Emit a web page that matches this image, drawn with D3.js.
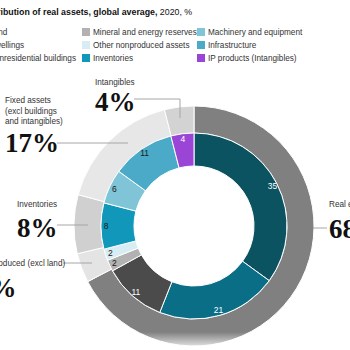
<!DOCTYPE html>
<html>
<head>
<meta charset="utf-8">
<script src="https://cdnjs.cloudflare.com/ajax/libs/d3/7.8.5/d3.min.js"></script>
<style>
    body { margin: 0; background: #fff; }
    svg { display: block; font-family: "Liberation Sans", Arial, sans-serif; }
</style>
</head>
<body>
<div id="chart"></div>
<script>

// outer ring: asset groups
let outerNames = ["Real estate", "Nonproduced (excl land)", "Inventories", "Fixed assets", "Intangibles"];
let outerValues = [68, 4, 8, 17, 4];
let outerColors = ["#808080", "#e4e4e4", "#d0d0d0", "#e7e7e7", "#d3d3d3"];

// inner ring: asset types (same order as legend)
let innerNames = ["Land", "Dwellings", "Nonresidential buildings", "Mineral and energy reserves",
    "Other nonproduced assets", "Inventories", "Machinery and equipment", "Infrastructure", "IP products (Intangibles)"];
let innerValues = [35, 21, 11, 2, 2, 8, 6, 11, 4];
let innerColors = ["#0c5361", "#0a6e87", "#4b4b4b", "#b2b2b2", "#d7ecf3", "#1197b9", "#80c4d8", "#4aaac7", "#9b45d6"];
let innerDarkText = [false, false, false, true, true, true, true, true, false];

// callout text lines for the outer groups
let calloutLines = [["Real estate"], ["Nonproduced (excl land)"], ["Inventories"],
    ["Fixed assets", "(excl buildings", "and intangibles)"], ["Intangibles"]];


class DonutVis {

    constructor(parentElement) {
        this.parentElement = parentElement;
        this.initVis();
    }

    initVis() {
        let vis = this;

        vis.width = 350;
        vis.height = 350;
        vis.cx = 194;
        vis.cy = 226;

        vis.svg = d3.select("#" + vis.parentElement).append("svg")
            .attr("width", vis.width)
            .attr("height", vis.height);

        vis.drawTitle();
        vis.drawLegend();
        vis.drawRings();
        vis.drawCallouts();

        // fade at the bottom edge
        let grad = vis.svg.append("defs").append("linearGradient")
            .attr("id", "fade").attr("x1", 0).attr("y1", 0).attr("x2", 0).attr("y2", 1);
        grad.append("stop").attr("offset", "0%").attr("stop-color", "#fff").attr("stop-opacity", 0);
        grad.append("stop").attr("offset", "100%").attr("stop-color", "#fff").attr("stop-opacity", 0.95);
        vis.svg.append("rect")
            .attr("x", 0).attr("y", 332).attr("width", vis.width).attr("height", 18)
            .attr("fill", "url(#fade)");
    }

    drawTitle() {
        let vis = this;

        // the title starts left of the visible area
        let probe = vis.svg.append("text")
            .attr("font-size", 8.8).attr("font-weight", "bold").text("Distr");
        let shift = probe.node().getComputedTextLength();
        probe.remove();

        let title = vis.svg.append("text")
            .attr("x", -shift + 0.5)
            .attr("y", 15)
            .attr("font-size", 8.8)
            .attr("fill", "#111");
        title.append("tspan").attr("font-weight", "bold").text("Distribution of real assets, global average,");
        title.append("tspan").text(" 2020, %");
    }

    drawLegend() {
        let vis = this;

        let rowY = [32, 45, 58];
        let colText = [null, 93, 208];

        // first column is right-aligned to the second one, so measure its longest item
        let probe = vis.svg.append("text").attr("font-size", 8.2).text(innerNames[2]);
        colText[0] = 76 - probe.node().getComputedTextLength();
        probe.remove();

        innerNames.forEach((name, i) => {
            let col = Math.floor(i / 3);
            let row = i % 3;
            let g = vis.svg.append("g")
                .attr("transform", `translate(${colText[col]}, ${rowY[row]})`);
            g.append("rect")
                .attr("x", -11).attr("y", -4)
                .attr("width", 8).attr("height", 8)
                .attr("fill", innerColors[i]);
            g.append("text")
                .attr("x", 0).attr("y", 3)
                .attr("font-size", 8.2)
                .attr("fill", "#333")
                .text(name);
        });
    }

    drawRings() {
        let vis = this;

        let pie = d3.pie().sort(null).value(d => d);

        let outerArc = d3.arc().innerRadius(93).outerRadius(120);
        let innerArc = d3.arc().innerRadius(60).outerRadius(93);
        let labelArc = d3.arc().innerRadius(88).outerRadius(88);

        let rings = vis.svg.append("g")
            .attr("transform", `translate(${vis.cx}, ${vis.cy})`);

        vis.outerPie = pie(outerValues);

        rings.selectAll(".outer")
            .data(vis.outerPie)
            .enter()
            .append("path")
            .attr("class", "outer")
            .attr("d", outerArc)
            .attr("fill", (d, i) => outerColors[i])
            .attr("stroke", "#fff")
            .attr("stroke-width", 1);

        let innerPie = pie(innerValues);

        rings.selectAll(".inner")
            .data(innerPie)
            .enter()
            .append("path")
            .attr("class", "inner")
            .attr("d", innerArc)
            .attr("fill", (d, i) => innerColors[i])
            .attr("stroke", "#fff")
            .attr("stroke-width", 1);

        rings.selectAll(".val")
            .data(innerPie)
            .enter()
            .append("text")
            .attr("class", "val")
            .attr("transform", d => `translate(${labelArc.centroid(d)})`)
            .attr("text-anchor", "middle")
            .attr("dy", "0.35em")
            .attr("font-size", 8.5)
            .attr("fill", (d, i) => innerDarkText[i] ? "#1a1a1a" : "#fff")
            .text(d => d.data);
    }

    drawCallouts() {
        let vis = this;

        // layout for each outer group: text position, number baseline, leader path
        let layout = [
            {x: 329, y: 207, numY: 238, leader: [[313, 228], [327, 228]]},
            {x: -24, y: 266, numY: 297, leader: [[63, 263], [92, 263]]},
            {x: 17, y: 207, numY: 237, leader: [[57, 225], [88, 225]]},
            {x: 5, y: 103, numY: 152, leader: [[57, 143], [128, 143]]},
            {x: 95, y: 85, numY: 111, leader: [[134, 99], [180, 99], [180, 118]]}
        ];

        let line = d3.line();

        outerValues.forEach((v, i) => {
            let l = layout[i];

            vis.svg.append("path")
                .attr("d", line(l.leader))
                .attr("fill", "none")
                .attr("stroke", "#a6a6a6")
                .attr("stroke-width", 1);

            let t = vis.svg.append("text")
                .attr("x", l.x).attr("y", l.y)
                .attr("font-size", 8.2)
                .attr("fill", "#333");
            calloutLines[i].forEach((s, j) => {
                t.append("tspan").attr("x", l.x).attr("dy", j === 0 ? 0 : 10.5).text(s);
            });

            vis.svg.append("text")
                .attr("x", l.x).attr("y", l.numY)
                .attr("font-family", "'Liberation Serif', 'Times New Roman', serif")
                .attr("font-weight", "bold")
                .attr("font-size", 27)
                .attr("fill", "#111")
                .text(v + "%");
        });
    }
}

let myDonut = new DonutVis("chart");

</script>
</body>
</html>
